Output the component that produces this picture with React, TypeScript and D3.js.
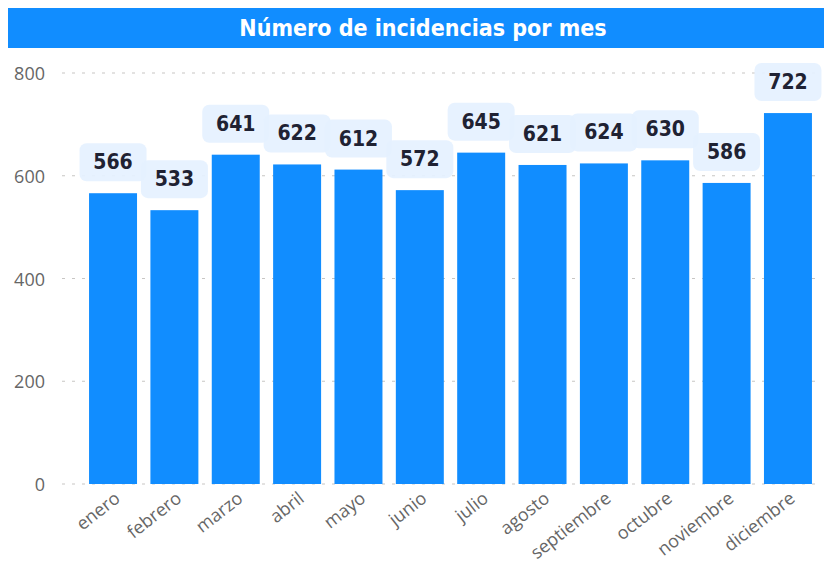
import React from "react";
import * as d3 from "d3";

const months = ["enero","febrero","marzo","abril","mayo","junio","julio","agosto","septiembre","octubre","noviembre","diciembre"];
const counts = [566,533,641,622,612,572,645,621,624,630,586,722];
const yTicks = [0,200,400,600,800];
const title = "Número de incidencias por mes";

export default function App() {
  const W = 824, H = 563;
  const x = d3.scaleBand<string>().domain(months).range([82.3, 818.7]).paddingInner(0.218).paddingOuter(0.11);
  const y = d3.scaleLinear().domain([0, 800]).range([484, 73]);
  const bw = x.bandwidth();
  return (
    <svg width={W} height={H} style={{ position: "absolute", left: 0, top: 0, background: "#fff" }}>
      <rect x={8} y={8} width={816} height={40} fill="#118DFF" />
      <text x={423} y={28} textAnchor="middle" dominantBaseline="central" fill="#fff"
        style={{ fontFamily: "'DejaVu Sans Condensed', 'DejaVu Sans'", fontWeight: 700, fontSize: 23 }}>{title}</text>
      {yTicks.map(t => (
        <g key={t}>
          <line x1={62} x2={822} y1={y(t)} y2={y(t)} stroke="#C8C6C4" strokeWidth={1.2} strokeDasharray="3,7" />
          <text x={45} y={y(t)} textAnchor="end" dominantBaseline="central" fill="#666"
            style={{ fontFamily: "'Open Sans'", fontSize: 18 }}>{t}</text>
        </g>
      ))}
      {months.map((m, i) => {
        const top = y(counts[i]);
        return (
          <g key={m}>
            <rect x={x(m)} y={top} width={bw} height={y(0) - top} fill="#118DFF" />
          </g>
        );
      })}
      {months.map((m, i) => {
        const cx = (x(m) as number) + bw / 2;
        const top = y(counts[i]);
        return (
          <g key={m + "l"}>
            <rect x={cx - 33.5} y={top - 50} width={67} height={38} rx={7} fill="#E5F1FF" fillOpacity={0.92} />
            <text x={cx} y={top - 31} textAnchor="middle" dominantBaseline="central" fill="#1F2233"
              style={{ fontFamily: "'DejaVu Sans Condensed', 'DejaVu Sans'", fontWeight: 700, fontSize: 21 }}>{counts[i]}</text>
          </g>
        );
      })}
      {months.map(m => {
        const cx = (x(m) as number) + bw / 2;
        return (
          <text key={m + "x"} transform={`translate(${cx},${490}) rotate(-38)`} textAnchor="end" dy="0.75em" fill="#666"
            style={{ fontFamily: "'Open Sans'", fontSize: 18 }}>{m}</text>
        );
      })}
    </svg>
  );
}
